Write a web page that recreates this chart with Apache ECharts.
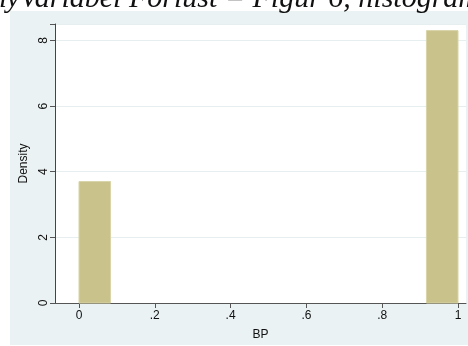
<!DOCTYPE html>
<html>
<head>
<meta charset="utf-8">
<script src="https://cdn.jsdelivr.net/npm/echarts@6/dist/echarts.min.js"></script>
<style>
  html, body { margin: 0; padding: 0; background: #ffffff; }
  #chart { width: 468px; height: 346px; }
</style>
</head>
<body>
<div id="chart"></div>
<script>
// Histogram of BP: two occupied bins (width 1/12), density scale
var binStart = [0, 0.9167];
var binEnd = [0.0833, 1];
var density = [3.7, 8.3];

var xTicks = [0, 0.2, 0.4, 0.6, 0.8, 1];
var xTickLabels = ['0', '.2', '.4', '.6', '.8', '1'];
var yTicks = [0, 2, 4, 6, 8];

var captionText = 'DummyVariabel Forlust = Figur 6, histogram';

var bars = binStart.map(function (s, i) { return [s, binEnd[i], density[i]]; });

var chart = echarts.init(document.getElementById('chart'), null, { renderer: 'canvas' });

var option = {
  animation: false,
  backgroundColor: '#ffffff',
  textStyle: { fontFamily: 'Liberation Sans, Arial, sans-serif' },
  graphic: [
    {
      type: 'rect', z: -10, silent: true,
      shape: { x: 10, y: 11, width: 458, height: 334 },
      style: { fill: '#eaf2f3' }
    },
    {
      type: 'text', z: 10, silent: true,
      x: 480, y: 14,
      style: {
        text: captionText,
        font: 'italic 30px "Liberation Serif", "Times New Roman", serif',
        fill: '#111111',
        align: 'right',
        verticalAlign: 'bottom'
      }
    }
  ],
  grid: {
    left: 55, right: 2, top: 24, bottom: 40,
    show: true, backgroundColor: '#ffffff', borderWidth: 0
  },
  xAxis: {
    type: 'value',
    min: -0.0633, max: 1.0211,
    name: 'BP',
    nameLocation: 'middle',
    nameGap: 26,
    nameTextStyle: { fontSize: 12, color: '#111' },
    axisLine: { show: true, onZero: false, lineStyle: { color: '#555', width: 1 } },
    axisTick: { show: true, length: 5, customValues: xTicks, lineStyle: { color: '#555' } },
    axisLabel: {
      show: true, customValues: xTicks, margin: 7, fontSize: 12, color: '#111',
      formatter: function (v) {
        var i = xTicks.indexOf(v);
        return i >= 0 ? xTickLabels[i] : '';
      }
    },
    splitLine: { show: false }
  },
  yAxis: {
    type: 'value',
    min: 0, max: 8.5, interval: 2,
    name: 'Density',
    nameLocation: 'middle',
    nameRotate: 90,
    nameGap: 0,
    nameTextStyle: { fontSize: 12, color: '#111' },
    axisLine: { show: true, onZero: false, lineStyle: { color: '#444', width: 1 } },
    axisTick: { show: true, length: 5, lineStyle: { color: '#555' } },
    axisLabel: {
      rotate: 90, margin: 5, fontSize: 12, color: '#111',
      formatter: function (v) { return yTicks.indexOf(v) >= 0 ? String(v) : ''; }
    },
    splitLine: { show: true, lineStyle: { color: '#e6eef0', width: 1 } }
  },
  series: [{
    type: 'custom',
    data: bars,
    encode: { x: [0, 1], y: 2 },
    renderItem: function (params, api) {
      var p0 = api.coord([api.value(0), api.value(2)]);
      var p1 = api.coord([api.value(1), 0]);
      return {
        type: 'rect',
        shape: { x: p0[0], y: p0[1], width: p1[0] - p0[0], height: p1[1] - p0[1] },
        style: { fill: '#c9c28b', stroke: '#d9d4a8', lineWidth: 1 }
      };
    }
  }]
};

chart.setOption(option);
</script>
</body>
</html>
